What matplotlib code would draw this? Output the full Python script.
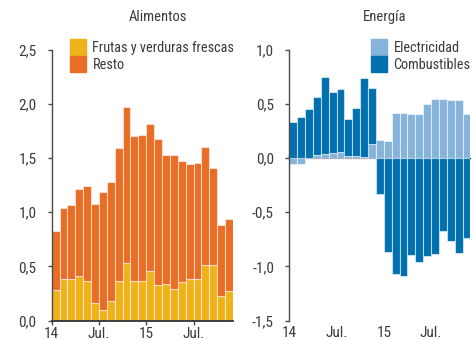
import matplotlib.pyplot as plt
import numpy as np
from matplotlib.patches import Patch

plt.rcParams['font.family'] = ['Liberation Sans Narrow', 'Roboto Condensed', 'Roboto', 'DejaVu Sans']

# Alimentos: contribuciones mensuales, ene-14 a nov-15
frutas = [0.278, 0.386, 0.38, 0.41, 0.364, 0.157, 0.10, 0.176, 0.364, 0.528, 0.361, 0.361,
          0.454, 0.324, 0.333, 0.29, 0.352, 0.38, 0.38, 0.512, 0.512, 0.222, 0.272]
resto = [0.546, 0.654, 0.685, 0.80, 0.876, 0.923, 1.09, 1.099, 1.226, 1.442, 1.339, 1.349,
         1.361, 1.356, 1.197, 1.24, 1.118, 1.065, 1.077, 1.088, 0.898, 0.664, 0.668]

# Energía
electricidad = [-0.055, -0.052, 0.0, 0.03, 0.037, 0.05, 0.052, 0.015, 0.02, 0.01, 0.13, 0.163,
                0.156, 0.42, 0.414, 0.405, 0.405, 0.50, 0.546, 0.546, 0.534, 0.54, 0.408]
combustibles = [0.331, 0.383, 0.451, 0.531, 0.715, 0.557, 0.586, 0.347, 0.443, 0.732, 0.517, -0.334,
                -0.868, -1.07, -1.09, -0.893, -0.957, -0.90, -0.883, -0.678, -0.77, -0.874, -0.736]

tick_pos = [0, 6, 12, 18]
tick_lab = ['14', 'Jul.', '15', 'Jul.']

c_frutas = '#F0B219'
c_resto = '#E96D25'
c_elec = '#86B3DA'
c_comb = '#0070AF'
txt = '#3a3a3a'
eje = '#4a4a4a'
borde = (1, 1, 1, 0.55)

W, H = 477, 340
fig = plt.figure(figsize=(W / 100, H / 100), dpi=100)
axL = fig.add_axes([51.7 / W, 19.5 / H, 181.2 / W, 270.8 / H])
axR = fig.add_axes([289.3 / W, 19.5 / H, 181.2 / W, 270.8 / H])

x = np.arange(len(frutas)) + 0.5

# Alimentos
axL.bar(x, frutas, width=1.0, color=c_frutas, edgecolor=borde, linewidth=0.8)
axL.bar(x, resto, width=1.0, bottom=frutas, color=c_resto, edgecolor=borde, linewidth=0.8)
axL.set_ylim(0, 2.5)
axL.set_yticks([0, 0.5, 1.0, 1.5, 2.0, 2.5])
axL.set_yticklabels(['0,0', '0,5', '1,0', '1,5', '2,0', '2,5'])

# Energía: positivos y negativos apilados por separado
elec = np.array(electricidad)
comb = np.array(combustibles)
base_comb = np.where(comb >= 0, np.maximum(elec, 0), np.minimum(elec, 0))
axR.bar(x, elec, width=1.0, color=c_elec, edgecolor=borde, linewidth=0.8)
axR.bar(x, comb, width=1.0, bottom=base_comb, color=c_comb, edgecolor=borde, linewidth=0.8)
axR.set_ylim(-1.5, 1.0)
axR.set_yticks([-1.5, -1.0, -0.5, 0, 0.5, 1.0])
axR.set_yticklabels(['-1,5', '-1,0', '-0,5', '0,0', '0,5', '1,0'])

for ax in (axL, axR):
    ax.set_xlim(0, len(frutas))
    ax.set_xticks(tick_pos)
    ax.set_xticklabels(tick_lab)
    for s in ('top', 'right'):
        ax.spines[s].set_visible(False)
    ax.spines['left'].set_color(eje)
    ax.spines['left'].set_linewidth(1.0)
    ax.tick_params(axis='y', direction='out', length=3, width=1.0, color=eje,
                   pad=8, labelsize=11, labelcolor=txt)
    ax.tick_params(axis='x', direction='out', length=3, width=1.0, color=eje,
                   pad=1.5, labelsize=11, labelcolor=txt)

axL.spines['bottom'].set_color('#333333')
axL.spines['bottom'].set_linewidth(1.3)
axL.spines['bottom'].set_zorder(3)

# eje x del panel de energía en el cero, etiquetas abajo
axR.spines['bottom'].set_visible(False)
axR.tick_params(axis='x', length=0, pad=4)
cero = axR.secondary_xaxis(1.5 / 2.5)
cero.set_xticks(tick_pos)
cero.set_xticklabels([])
cero.spines['bottom'].set_color('#333333')
cero.spines['bottom'].set_linewidth(1.3)
cero.tick_params(axis='x', direction='out', length=3, width=1.0, color='#333333')

fig.text(158 / W, 1 - 17 / H, 'Alimentos', ha='center', va='center', fontsize=10.5, color=txt)
fig.text(385 / W, 1 - 17 / H, 'Energía', ha='center', va='center', fontsize=10.5, color=txt)

leg_kw = dict(loc='upper left', frameon=False, fontsize=10.3, handlelength=1.12,
              handleheight=1.42, handletextpad=0.45, labelspacing=0.0,
              borderpad=0, borderaxespad=0, labelcolor=txt)
axL.legend(handles=[Patch(color=c_frutas, label='Frutas y verduras frescas'),
                    Patch(color=c_resto, label='Resto')],
           bbox_to_anchor=(70 / W, 1 - 39 / H), bbox_transform=fig.transFigure, **leg_kw)
axR.legend(handles=[Patch(color=c_elec, label='Electricidad'),
                    Patch(color=c_comb, label='Combustibles')],
           bbox_to_anchor=(371 / W, 1 - 39 / H), bbox_transform=fig.transFigure, **leg_kw)

fig.savefig('out.png', dpi=100)
